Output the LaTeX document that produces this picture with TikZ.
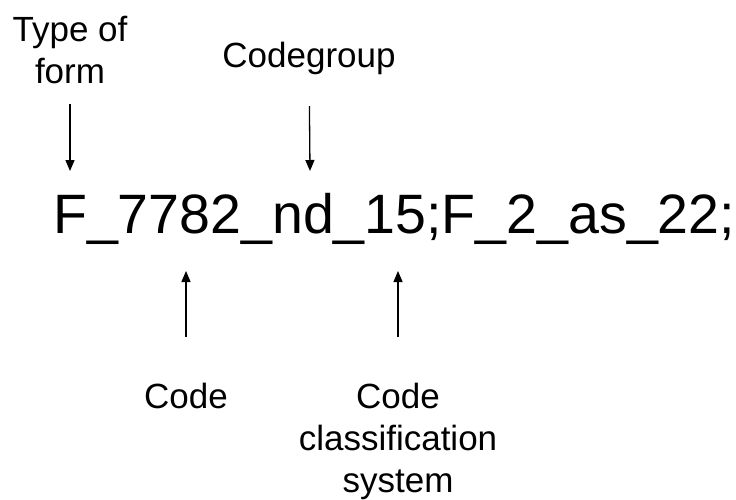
\documentclass[tikz,border=0pt]{standalone}
\usepackage{fontspec}
\setmainfont{Liberation Sans}
\usetikzlibrary{arrows.meta}

\tikzset{
  label/.style={inner sep=0pt, align=center, anchor=north, font=\fontsize{35}{42}\selectfont},
  codestr/.style={inner sep=0pt, anchor=base west, font=\fontsize{55.5}{60}\selectfont},
  pointer/.style={line width=1.3pt, -{Triangle[length=11pt,width=9pt]}}
}

\begin{document}
\begin{tikzpicture}[x=1pt, y=-1pt]
\useasboundingbox (0,0) rectangle (736,500);
\node[codestr] (code) at (53,233) {F\_7782\_nd\_15;F\_2\_as\_22;};
\node[label] (typeform) at (70,16) {Type of\\form};
\node[label] (codegroup) at (309,42) {Codegroup};
\node[label] (codeword) at (186,383) {Code};
\node[label] (classsys) at (398,383) {Code\\classification\\system};
\coordinate (formtip) at (70,171);
\coordinate (grouptip) at (310,171);
\coordinate (codetip) at (186,271);
\coordinate (systip) at (398,271);
\draw[pointer, shorten <=20pt] (typeform) -- (formtip);
\draw[pointer, shorten <=31pt] (codegroup) -- (grouptip);
\draw[pointer, shorten <=46pt] (codeword) -- (codetip);
\draw[pointer, shorten <=46pt] (classsys) -- (systip);
\end{tikzpicture}
\end{document}
